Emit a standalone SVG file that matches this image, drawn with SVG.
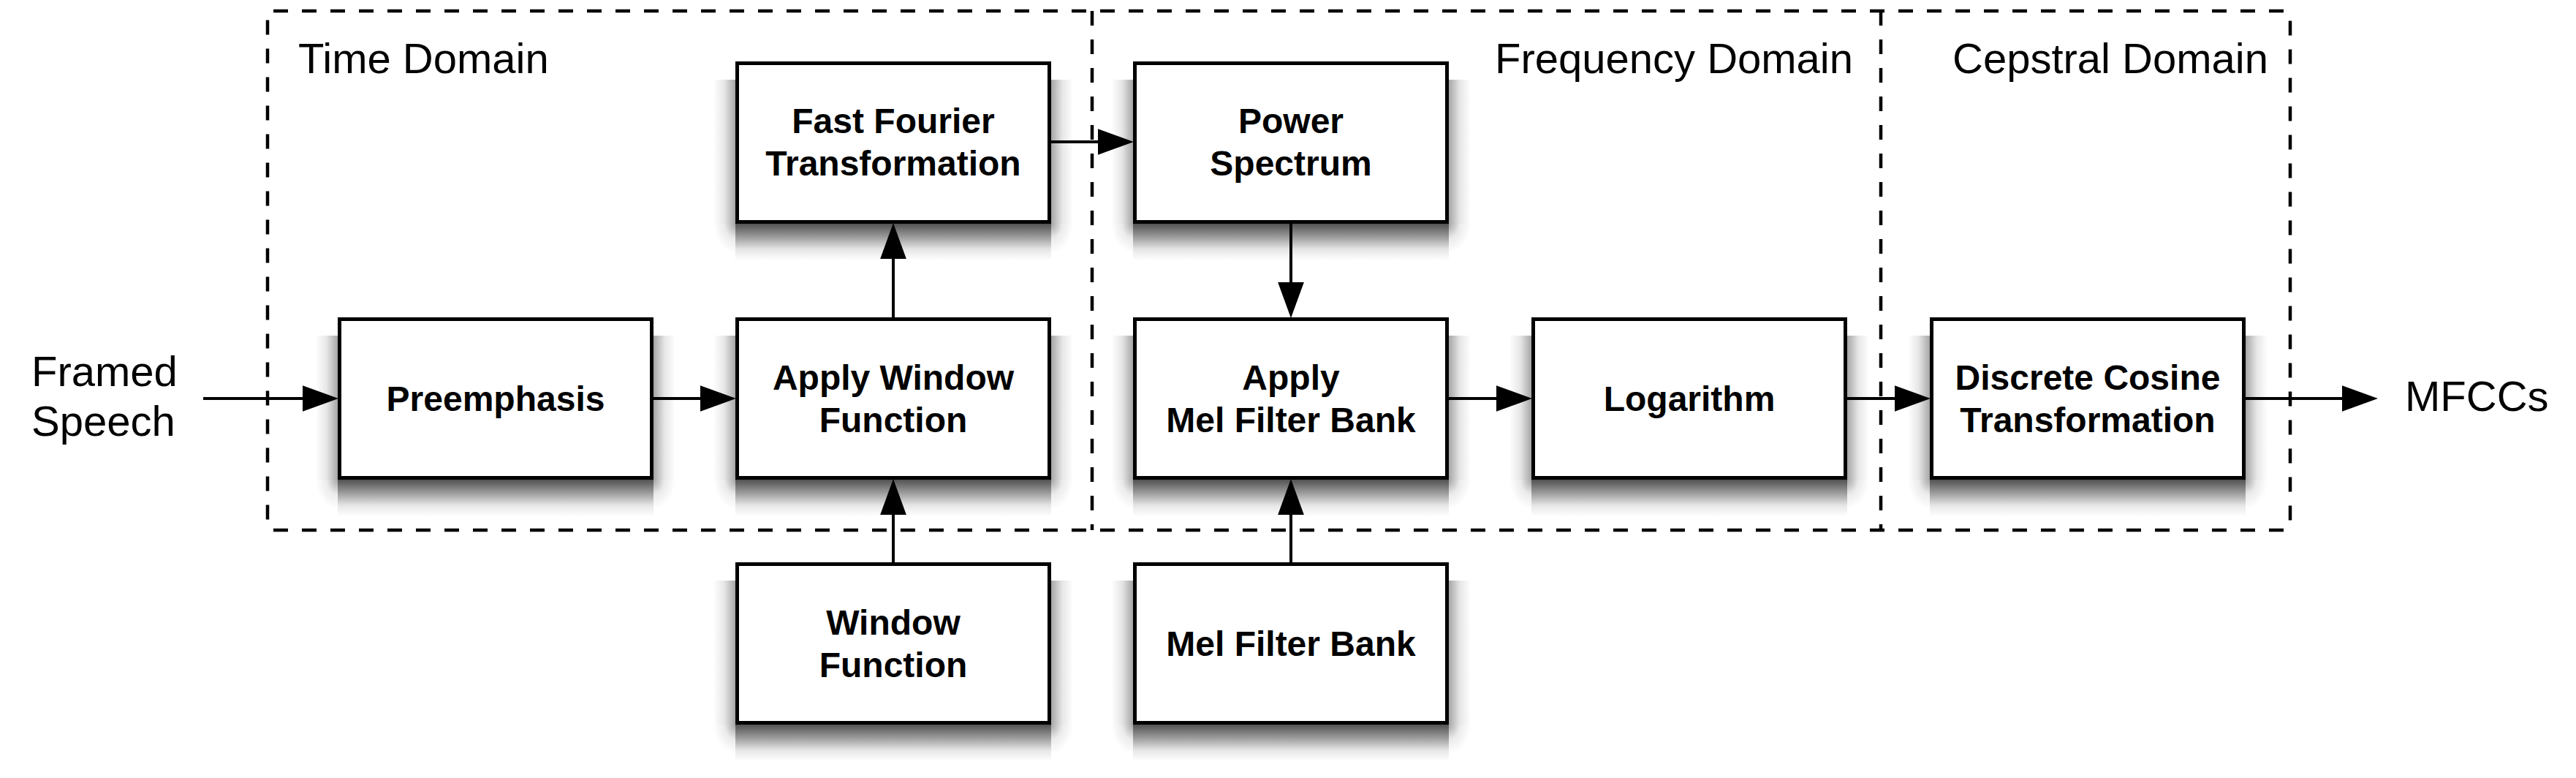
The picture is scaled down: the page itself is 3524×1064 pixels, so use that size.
<svg xmlns="http://www.w3.org/2000/svg" xmlns:xlink="http://www.w3.org/1999/xlink" width="3524" height="1064" viewBox="0 0 3524 1064">
  <style>
    .box { fill: #ffffff; stroke: #000000; stroke-width: 5; }
    .lbl { font-family: "Liberation Sans", Arial, sans-serif; font-weight: bold; font-size: 48px; text-anchor: middle; fill: #000000; }
    .txt { font-family: "Liberation Sans", Arial, sans-serif; font-size: 58px; fill: #000000; }
    .dash { fill: none; stroke: #000000; stroke-width: 4.5; stroke-dasharray: 20 19; }
    .conn { fill: none; stroke: #000000; stroke-width: 4; marker-end: url(#arrow); }
  </style>
  <defs>
    <linearGradient id="gB" x1="0" y1="0" x2="0" y2="1">
      <stop offset="0" stop-color="#000" stop-opacity="0.68"/>
      <stop offset="0.35" stop-color="#000" stop-opacity="0.4"/>
      <stop offset="0.7" stop-color="#000" stop-opacity="0.1"/>
      <stop offset="1" stop-color="#000" stop-opacity="0"/>
    </linearGradient>
    <linearGradient id="gR" x1="0" y1="0" x2="1" y2="0">
      <stop offset="0" stop-color="#000" stop-opacity="0.35"/>
      <stop offset="0.5" stop-color="#000" stop-opacity="0.1"/>
      <stop offset="1" stop-color="#000" stop-opacity="0"/>
    </linearGradient>
    <linearGradient id="gL" x1="1" y1="0" x2="0" y2="0">
      <stop offset="0" stop-color="#000" stop-opacity="0.35"/>
      <stop offset="0.5" stop-color="#000" stop-opacity="0.1"/>
      <stop offset="1" stop-color="#000" stop-opacity="0"/>
    </linearGradient>
    <radialGradient id="gCR" cx="0" cy="0" r="1">
      <stop offset="0" stop-color="#000" stop-opacity="0.35"/>
      <stop offset="0.5" stop-color="#000" stop-opacity="0.08"/>
      <stop offset="1" stop-color="#000" stop-opacity="0"/>
    </radialGradient>
    <radialGradient id="gCL" cx="1" cy="0" r="1">
      <stop offset="0" stop-color="#000" stop-opacity="0.35"/>
      <stop offset="0.5" stop-color="#000" stop-opacity="0.08"/>
      <stop offset="1" stop-color="#000" stop-opacity="0"/>
    </radialGradient>
    <g id="shadow">
      <rect x="0" y="222" width="432" height="50" fill="url(#gB)"/>
      <rect x="-30" y="25" width="30" height="197" fill="url(#gL)"/>
      <rect x="432" y="25" width="30" height="197" fill="url(#gR)"/>
      <rect x="432" y="222" width="30" height="40" fill="url(#gCR)"/>
      <rect x="-30" y="222" width="30" height="40" fill="url(#gCL)"/>
    </g>
    <marker id="arrow" markerUnits="userSpaceOnUse" markerWidth="49" markerHeight="36" viewBox="0 0 48 35" refX="0" refY="17.5" orient="auto">
      <path d="M0,0 L48,17.5 L0,35 Z" fill="#000000"/>
    </marker>
  </defs>
  <rect width="3524" height="1064" fill="#ffffff"/>

  <g id="domains">
    <rect class="dash" x="366" y="15" width="2767" height="710" rx="8"/>
    <line class="dash" x1="1494" y1="15" x2="1494" y2="725"/>
    <line class="dash" x1="2573" y1="15" x2="2573" y2="725"/>
    <text class="txt" x="408" y="100">Time Domain</text>
    <text class="txt" x="2045" y="100">Frequency Domain</text>
    <text class="txt" x="2671" y="100">Cepstral Domain</text>
  </g>

  <g id="input">
    <text class="txt" x="43" y="528">Framed</text>
    <text class="txt" x="43" y="596">Speech</text>
  </g>
  <g id="output">
    <text class="txt" x="3290" y="562">MFCCs</text>
  </g>

  <g id="shadows">
    <use xlink:href="#shadow" href="#shadow" x="462" y="434"/>
    <use xlink:href="#shadow" href="#shadow" x="1006" y="434"/>
    <use xlink:href="#shadow" href="#shadow" x="1006" y="84"/>
    <use xlink:href="#shadow" href="#shadow" x="1006" y="769"/>
    <use xlink:href="#shadow" href="#shadow" x="1550" y="84"/>
    <use xlink:href="#shadow" href="#shadow" x="1550" y="434"/>
    <use xlink:href="#shadow" href="#shadow" x="1550" y="769"/>
    <use xlink:href="#shadow" href="#shadow" x="2095" y="434"/>
    <use xlink:href="#shadow" href="#shadow" x="2640" y="434"/>
  </g>

  <g id="preemphasis">
    <rect class="box" x="464.5" y="436.5" width="427" height="217"/>
    <text class="lbl" x="678" y="562">Preemphasis</text>
  </g>
  <g id="apply-window">
    <rect class="box" x="1008.5" y="436.5" width="427" height="217"/>
    <text class="lbl" x="1222" y="533">Apply Window</text>
    <text class="lbl" x="1222" y="591">Function</text>
  </g>
  <g id="fft">
    <rect class="box" x="1008.5" y="86.5" width="427" height="217"/>
    <text class="lbl" x="1222" y="182">Fast Fourier</text>
    <text class="lbl" x="1222" y="240">Transformation</text>
  </g>
  <g id="window-function">
    <rect class="box" x="1008.5" y="771.5" width="427" height="217"/>
    <text class="lbl" x="1222" y="868">Window</text>
    <text class="lbl" x="1222" y="926">Function</text>
  </g>
  <g id="power-spectrum">
    <rect class="box" x="1552.5" y="86.5" width="427" height="217"/>
    <text class="lbl" x="1766" y="182">Power</text>
    <text class="lbl" x="1766" y="240">Spectrum</text>
  </g>
  <g id="apply-mel">
    <rect class="box" x="1552.5" y="436.5" width="427" height="217"/>
    <text class="lbl" x="1766" y="533">Apply</text>
    <text class="lbl" x="1766" y="591">Mel Filter Bank</text>
  </g>
  <g id="mel-filter-bank">
    <rect class="box" x="1552.5" y="771.5" width="427" height="217"/>
    <text class="lbl" x="1766" y="897">Mel Filter Bank</text>
  </g>
  <g id="logarithm">
    <rect class="box" x="2097.5" y="436.5" width="427" height="217"/>
    <text class="lbl" x="2311" y="562">Logarithm</text>
  </g>
  <g id="dct">
    <rect class="box" x="2642.5" y="436.5" width="427" height="217"/>
    <text class="lbl" x="2856" y="533">Discrete Cosine</text>
    <text class="lbl" x="2856" y="591">Transformation</text>
  </g>

  <g id="connectors">
    <path class="conn" d="M278,545 H414"/>
    <path class="conn" d="M894,545 H958"/>
    <path class="conn" d="M1222,434 V354"/>
    <path class="conn" d="M1438,194 H1502"/>
    <path class="conn" d="M1766,306 V386"/>
    <path class="conn" d="M1222,769 V704"/>
    <path class="conn" d="M1766,769 V704"/>
    <path class="conn" d="M1982,545 H2047"/>
    <path class="conn" d="M2527,545 H2592"/>
    <path class="conn" d="M3072,545 H3204"/>
  </g>
</svg>
